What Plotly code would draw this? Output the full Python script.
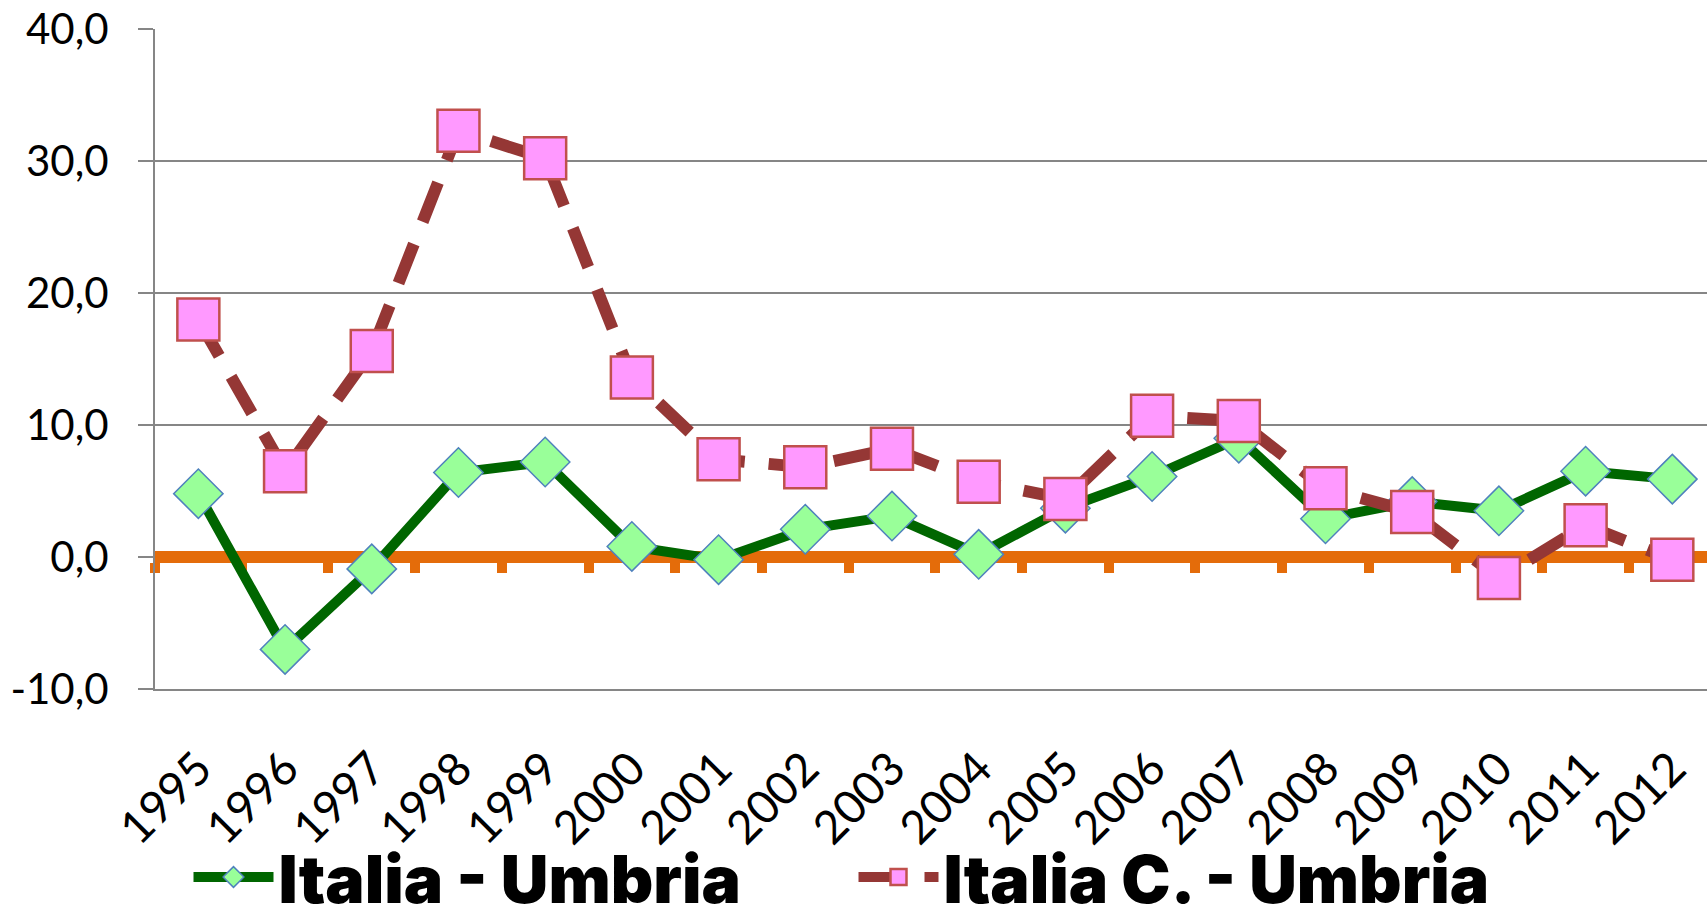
import plotly.graph_objects as go

# dati
anni = ['1995', '1996', '1997', '1998', '1999', '2000', '2001', '2002', '2003',
        '2004', '2005', '2006', '2007', '2008', '2009', '2010', '2011', '2012']
italia_umbria = [4.8, -7.0, -0.9, 6.4, 7.2, 0.8, -0.2, 2.1, 3.1,
                 0.2, 3.7, 6.1, 9.0, 2.9, 4.2, 3.5, 6.5, 5.9]
italia_c_umbria = [18.0, 6.5, 15.6, 32.3, 30.2, 13.6, 7.4, 6.8, 8.2,
                   5.7, 4.4, 10.7, 10.3, 5.2, 3.4, -1.6, 2.4, -0.2]
y_tick_vals = [-10, 0, 10, 20, 30, 40]
y_tick_text = ['-10,0', '0,0', '10,0', '20,0', '30,0', '40,0']

grigio = '#868686'
arancio = '#E46C0A'

fig = go.Figure()

fig.add_trace(go.Scatter(
    x=anni, y=italia_umbria, name='Italia - Umbria', mode='lines+markers',
    line=dict(color='#006600', width=10),
    marker=dict(symbol='diamond', size=38, color='#99FF99',
                line=dict(color='#4F81BD', width=1.5))
))
fig.add_trace(go.Scatter(
    x=anni, y=italia_c_umbria, name='Italia C. - Umbria', mode='lines+markers',
    line=dict(color='#953735', width=12, dash='42px,24px'),
    marker=dict(symbol='square', size=42, color='#FF99FF',
                line=dict(color='#C0504D', width=2.5))
))
# traccia invisibile per l'asse arancione a quota zero
fig.add_trace(go.Scatter(x=anni, y=[0] * len(anni), xaxis='x2', mode='lines',
                         line=dict(width=0), showlegend=False, hoverinfo='skip'))

fig.update_layout(
    width=1707, height=923,
    margin=dict(l=155, r=0, t=29, b=234, autoexpand=False),
    plot_bgcolor='white', paper_bgcolor='white',
    font=dict(family='Lato', size=42, color='black'),
    showlegend=True,
    legend=dict(orientation='h', xref='container', x=0.5, xanchor='center',
                y=-0.285, yanchor='middle', bgcolor='rgba(0,0,0,0)',
                font=dict(family='Inter', size=66, weight=900, color='black'),
                itemwidth=80, entrywidth=570, entrywidthmode='pixels'),
    xaxis=dict(type='category', range=[-0.5, 17.4], showgrid=False,
               showline=True, linecolor=grigio, linewidth=2,
               tickangle=-45, ticks='', ticklabelstandoff=32,
               tickfont=dict(family='Lato', size=46)),
    xaxis2=dict(type='category', range=[-0.5, 17.4], overlaying='x', anchor='free',
                position=0.2, side='bottom', showgrid=False, showticklabels=False,
                showline=True, linecolor=arancio, linewidth=12,
                ticks='outside', tickson='boundaries', ticklen=10, tickwidth=10,
                tickcolor=arancio, layer='below traces'),
    yaxis=dict(range=[-10, 40], tickvals=y_tick_vals, ticktext=y_tick_text,
               showgrid=True, gridcolor=grigio, gridwidth=2, zeroline=False,
               showline=True, linecolor=grigio, linewidth=2,
               ticks='outside', ticklen=15, tickwidth=2, tickcolor=grigio,
               ticklabelstandoff=21, tickfont=dict(family='Lato', size=42)),
)

fig.write_html("out.html", config={'displayModeBar': False},
               post_script="document.body.style.margin='0';")
